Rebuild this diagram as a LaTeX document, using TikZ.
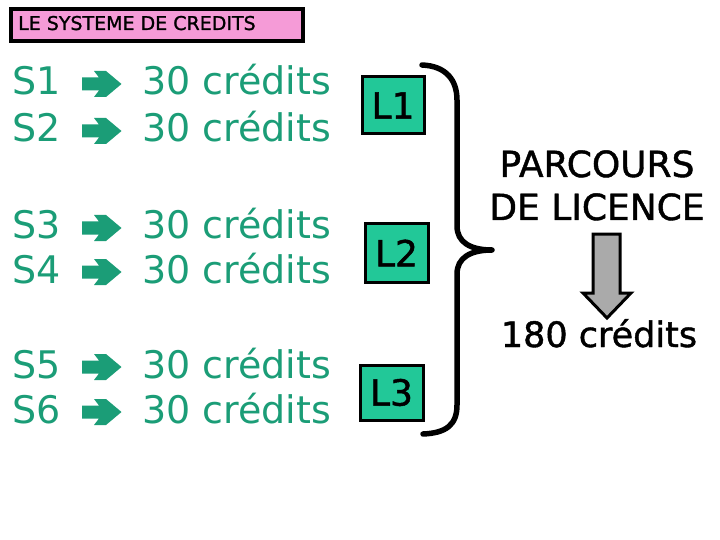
\documentclass[tikz,border=0pt]{standalone}
\usepackage{fontspec}
\setmainfont{DejaVu Sans}
\newfontfamily\heavyfont[FakeBold=1.2]{DejaVu Sans}
\definecolor{teal1}{RGB}{27,157,119}
\definecolor{boxgreen}{RGB}{34,200,152}
\definecolor{pinkbox}{RGB}{245,155,215}
\definecolor{arrowgray}{RGB}{170,170,170}
\begin{document}
\begin{tikzpicture}[x=1pt,y=-1pt,
  semtext/.style={anchor=base west,inner sep=0pt,text=teal1,font=\fontsize{38}{40}\selectfont},
  lbox/.style={draw=black,line width=3pt,fill=boxgreen},
  ltext/.style={inner sep=0pt,font=\heavyfont\fontsize{36}{38}\selectfont},
  rtext/.style={anchor=base,inner sep=0pt,font=\heavyfont\fontsize{36}{38}\selectfont}]
\useasboundingbox (0,0) rectangle (720,540);
\fill[white] (0,0) rectangle (720,540);
% title
\draw[line width=4pt,fill=pinkbox] (11,9) rectangle (303,41);
\node[anchor=base west,inner sep=0pt,font=\heavyfont\fontsize{19}{20}\selectfont] (title) at (18,30) {LE SYSTEME DE CREDITS};
% rows
\foreach \s/\b in {1/95,2/142,3/239,4/283,5/378,6/423}{
  \node[semtext] (s\s) at (12,\b) {S\s};
  \node[semtext] (c\s) at (142,\b) {30 crédits};
  \begin{scope}[shift={(0,\b-11)}]
    \fill[teal1] (82,-6.5) -- (99,-6.5) -- (94,-13) -- (106,-13) -- (121.5,0) -- (106,13) -- (94,13) -- (99,6.5) -- (82,6.5) -- cycle;
  \end{scope}
}
% L boxes
\draw[lbox] (362,77) rectangle (424,134);
\node[ltext] (l1) at (393,105.5) {L1};
\draw[lbox] (365,224) rectangle (428,282);
\node[ltext] (l2) at (396.5,253) {L2};
\draw[lbox] (360,365) rectangle (423,420);
\node[ltext] (l3) at (391.5,392.5) {L3};
% brace
\draw[line width=5.5pt,line cap=round,line join=round]
  (422,65) .. controls (446,66) and (457,80) .. (457,100) -- (457,226)
  .. controls (457,242) and (470,250) .. (492,250)
  .. controls (470,250) and (457,258) .. (457,274) -- (457,405)
  .. controls (457,425) and (446,433) .. (423,434);
% right texts
\node[rtext] (p1) at (597,177) {PARCOURS};
\node[rtext] (p2) at (597,220) {DE LICENCE};
\draw[line width=3pt,fill=arrowgray,line join=miter]
  (593,234) -- (620,234) -- (620,293) -- (631,293) -- (607,318) -- (583,293) -- (593,293) -- cycle;
\node[rtext,font=\heavyfont\fontsize{35}{37}\selectfont] (tot) at (599,347) {180 crédits};
\end{tikzpicture}
\end{document}
